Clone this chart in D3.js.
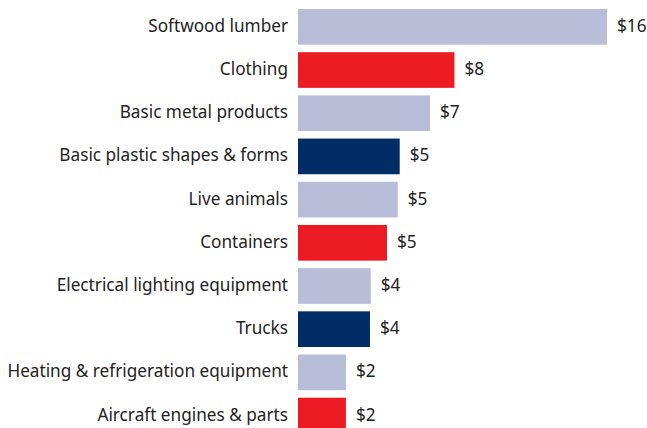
<!DOCTYPE html>
<html>
<head>
<meta charset="utf-8">
<script src="https://cdn.jsdelivr.net/npm/d3@7"></script>
<style>
  body { margin: 0; background: #fff; }
  svg text { font-family: "Noto Sans", sans-serif; fill: #222; }
</style>
</head>
<body>
<svg width="647" height="428"></svg>
<script>
// categories, values ($), colour group
var categories = ["Softwood lumber", "Clothing", "Basic metal products", "Basic plastic shapes & forms",
    "Live animals", "Containers", "Electrical lighting equipment", "Trucks",
    "Heating & refrigeration equipment", "Aircraft engines & parts"];
var values = [15.8, 8.0, 6.75, 5.2, 5.1, 4.55, 3.72, 3.68, 2.45, 2.45];
var groups = ["light", "red", "light", "navy", "light", "red", "light", "navy", "light", "red"];

var colors = { light: "#b8bdd8", red: "#ed1c24", navy: "#002d66" };

var svg = d3.select("svg");
var left = 298;

var x = d3.scaleLinear().domain([0, 15.8]).range([left, 607]);
var y = d3.scaleBand().domain(categories).range([9, 433.4]).paddingInner(0.174).paddingOuter(0);

var data = categories.map((c, i) => ({ cat: c, v: values[i], g: groups[i] }));

svg.append("g").selectAll("rect")
    .data(data)
    .enter()
    .append("rect")
    .attr("x", x(0))
    .attr("y", d => y(d.cat))
    .attr("width", d => x(d.v) - x(0))
    .attr("height", y.bandwidth())
    .attr("fill", d => colors[d.g])

// category labels
svg.append("g").selectAll("text")
    .data(data)
    .enter()
    .append("text")
    .attr("x", 288)
    .attr("y", d => y(d.cat) + y.bandwidth() / 2 - 1)
    .attr("dy", "0.35em")
    .attr("text-anchor", "end")
    .attr("font-size", 17.2)
    .text(d => d.cat)

// value labels
svg.append("g").selectAll("text")
    .data(data)
    .enter()
    .append("text")
    .attr("x", d => x(d.v) + 10)
    .attr("y", d => y(d.cat) + y.bandwidth() / 2 - 1)
    .attr("dy", "0.35em")
    .attr("font-size", 17.2)
    .text(d => "$" + Math.round(d.v))
</script>
</body>
</html>
